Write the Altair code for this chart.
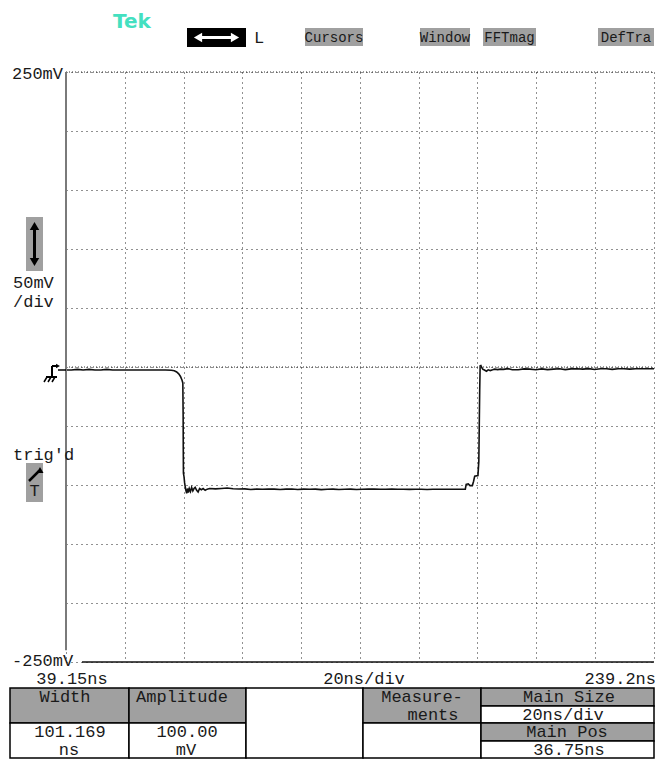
import altair as alt
import pandas as pd

time_ns = [39.15, 41, 43, 45, 47, 49, 51, 53, 55, 57, 59, 61, 63, 65, 67, 69, 71, 73, 75,
           76.0, 76.8, 77.5, 78.1, 78.6, 78.9, 79.0, 79.05, 79.1, 79.3, 79.5, 79.65, 79.9,
           80.2, 80.5, 80.8, 81.1, 81.5, 81.9, 82.3, 82.7, 83.1, 83.6, 84.1, 84.6, 85.2,
           85.8, 86.5, 87.2, 88.0,
           90, 92, 94, 96, 98, 100, 102, 104, 106, 108, 110, 112, 114, 116, 118, 120, 122,
           124, 126, 128, 130, 132, 134, 136, 138, 140, 142, 144, 146, 148, 150, 152, 154,
           156, 158, 160, 162, 164, 166, 168, 170, 172, 174, 175.0,
           175.3, 176.0, 176.6, 177.4, 177.8, 178.2, 179.3, 179.6, 179.75, 179.9, 180.05,
           180.3, 180.6, 181.0, 181.5, 182.2, 182.8, 183.5, 184.3, 185.0, 186.0, 187.0,
           188.0, 189.5, 191, 193, 195, 197, 199, 201, 203, 205, 207, 209, 211, 213, 215,
           217, 219, 221, 223, 225, 227, 229, 231, 233, 235, 237, 239.2]
volt_mV = [-2.5, -2.5, -2.0, -2.5, -2.0, -2.5, -2.5, -2.0, -2.5, -2.5, -2.5, -2.5, -2.5,
           -2.5, -2.5, -2.5, -2.5, -2.6, -2.8,
           -3.2, -4.2, -5.8, -8.0, -11.0, -13.5, -40, -70, -90, -93, -98, -100.5, -104,
           -107, -103, -106.5, -103, -105.5, -102, -105, -103, -102, -104.5, -106, -103, -104,
           -103, -104.5, -103.5, -103,
           -103.3, -103.0, -102.6, -103.2, -103.4, -103.3, -103.8, -103.5, -103.6, -103.5,
           -103.5, -103.8, -103.5, -103.4, -103.8, -103.5, -103.6, -103.5, -103.9, -103.6,
           -103.5, -103.8, -103.6, -103.5, -103.8, -103.6, -103.5, -103.4, -103.6, -103.6,
           -103.5, -103.6, -103.6, -103.7, -103.6, -103.6, -103.8, -103.6, -103.6, -103.6,
           -103.6, -103.6, -103.6, -103.6,
           -99.5, -99.0, -100.5, -100.5, -97, -92.5, -92, -80, -50, -20, 1.0,
           1.2, -0.5, -2.0, -2.5, -3.6, -2.4, -3.0, -2.4, -1.8, -2.2, -1.8,
           -2.0, -1.4, -2.3, -2.3, -1.6, -1.8, -2.3, -1.6, -2.2, -1.8, -1.5, -2.2, -1.6, -1.5,
           -1.8, -1.4, -2.1, -1.5, -1.5, -2.0, -1.5, -1.5, -1.8, -1.5, -1.5, -1.5, -1.5]

t_start, t_end, t_div = 39.15, 239.2, 20.0
v_min, v_max, v_div = -250, 250, 50
time_labels = ["39.15ns", "20ns/div", "239.2ns"]
volt_labels = ["250mV", "-250mV"]
menu_labels = ["Cursors", "Window", "FFTmag", "DefTra"]
meas_headers = ["Width", "Amplitude"]
meas_values = ["101.169", "100.00"]
meas_units = ["ns", "mV"]
side_texts = ["Measure-", "ments", "Main Size", "20ns/div", "Main Pos", "36.75ns"]

trace = pd.DataFrame({"t": time_ns, "v": volt_mV})
one = pd.DataFrame({"k": [0]})

W, H = 588, 590
OX, OY = 66, 72  # window position of plot origin
MONO = "Liberation Mono"
GRAY = "#a0a0a0"
INK = "#1a1a1a"

x_grid = [round(t_start + t_div * k, 3) for k in range(11)]
y_grid = list(range(v_min, v_max + 1, v_div))

xs = alt.Scale(domain=[t_start, t_end], nice=False, zero=False)
ys = alt.Scale(domain=[v_min, v_max], nice=False, zero=False)

line = alt.Chart(trace).mark_line(color="#111111", strokeWidth=1.6).encode(
    x=alt.X("t:Q", scale=xs,
            axis=alt.Axis(values=x_grid, grid=True, labels=False, ticks=False, domain=False,
                          title=None, gridDash=[1, 4], gridColor="#222222", gridWidth=1)),
    y=alt.Y("v:Q", scale=ys,
            axis=alt.Axis(values=y_grid, grid=True, labels=False, ticks=False, domain=False,
                          title=None, gridDash=[1, 4], gridColor="#222222", gridWidth=1)),
)

layers = []

# zero (ground) reference line, top border, left & bottom borders
layers.append(alt.Chart(one).mark_rule(color="#333333", strokeDash=[1, 2], strokeWidth=1).encode(
    x=alt.datum(t_start), x2=alt.datum(t_end), y=alt.datum(0)))
layers.append(alt.Chart(one).mark_rule(color="#333333", strokeDash=[1, 2], strokeWidth=1).encode(
    x=alt.datum(t_start), x2=alt.datum(t_end), y=alt.datum(v_max)))
layers.append(alt.Chart(one).mark_rule(color="#7a7a7a", strokeWidth=2).encode(
    x=alt.datum(t_start), y=alt.datum(v_max), y2=alt.datum(-240)))
layers.append(alt.Chart(one).mark_rule(color="#111111", strokeWidth=1.5).encode(
    x=alt.datum(44.6), x2=alt.datum(t_end), y=alt.datum(v_min)))

# voltage labels
layers.append(alt.Chart(one).mark_text(text=volt_labels[0], align="left", baseline="middle",
                                       font=MONO, fontSize=17, dy=2, color=INK).encode(
    x=alt.value(12 - OX), y=alt.datum(v_max)))
layers.append(alt.Chart(one).mark_text(text=volt_labels[1], align="left", baseline="middle",
                                       font=MONO, fontSize=17, dy=-1, color=INK).encode(
    x=alt.value(12 - OX), y=alt.datum(v_min)))

# time labels
for lab, tv, al, dx in [(time_labels[0], t_start, "center", 6),
                        (time_labels[1], (t_start + t_end) / 2, "center", 4),
                        (time_labels[2], t_end, "right", 2)]:
    layers.append(alt.Chart(one).mark_text(text=lab, align=al, baseline="middle",
                                           font=MONO, fontSize=17, dx=dx, dy=17, color=INK).encode(
        x=alt.datum(tv), y=alt.datum(v_min)))


def rect(x1, y1, x2, y2, fill, stroke=None, sw=1.5):
    kw = dict(fill=fill)
    if stroke:
        kw.update(stroke=stroke, strokeWidth=sw)
    return alt.Chart(one).mark_rect(**kw).encode(
        x=alt.value(x1 - OX), x2=alt.value(x2 - OX), y=alt.value(y1 - OY), y2=alt.value(y2 - OY))


def txt(x, y, s, align="center", size=17, color=INK, font=MONO, weight="normal", base="middle"):
    return alt.Chart(one).mark_text(text=s, align=align, baseline=base, font=font, fontSize=size,
                                    color=color, fontWeight=weight).encode(
        x=alt.value(x - OX), y=alt.value(y - OY))


def rule(x1, y1, x2, y2, color="black", sw=1.5):
    return alt.Chart(one).mark_rule(color=color, strokeWidth=sw).encode(
        x=alt.value(x1 - OX), x2=alt.value(x2 - OX), y=alt.value(y1 - OY), y2=alt.value(y2 - OY))


def tri(x, y, shape, color="black", size=70):
    return alt.Chart(one).mark_point(shape=shape, filled=True, size=size, color=color, opacity=1).encode(
        x=alt.value(x - OX), y=alt.value(y - OY))


# --- header ---
layers.append(txt(113, 28, "Tek", align="left", size=20, color="#44e0c0", font="DejaVu Sans",
                  weight="bold", base="alphabetic"))
layers.append(rect(187, 28, 246, 47, "black"))
layers.append(rule(199, 37.5, 234, 37.5, color="white", sw=3))
layers.append(tri(198, 37.5, "triangle-left", color="white", size=90))
layers.append(tri(235, 37.5, "triangle-right", color="white", size=90))
layers.append(txt(254, 38, "L", align="left", size=17))
for lab, (a, b) in zip(menu_labels, [(305, 363), (420, 470), (483, 536), (598, 654)]):
    layers.append(rect(a, 28, b, 46, GRAY))
    layers.append(txt((a + b) / 2, 37.5, lab, size=14))

# --- left side icons ---
layers.append(rect(26, 217, 43, 271, GRAY))
layers.append(rule(34.5, 226, 34.5, 262, sw=3))
layers.append(tri(34.5, 226, "triangle-up", size=90))
layers.append(tri(34.5, 262, "triangle-down", size=90))
layers.append(txt(13, 283, "50mV", align="left"))
layers.append(txt(13, 302, "/div", align="left"))
# ground marker
layers.append(rule(52, 366, 52, 377, sw=2))
layers.append(rule(52, 366, 57, 366, sw=2))
layers.append(tri(58, 366, "triangle-right", size=20))
layers.append(rule(46, 377, 57, 377, sw=2))
for hx in [47, 51, 55]:
    layers.append(rule(hx, 377, hx - 3, 382, sw=1.5))
layers.append(rule(58, 370, 66, 370, sw=1.5))
layers.append(txt(13, 455, "trig'd", align="left"))
layers.append(rect(26, 463, 43, 502, GRAY))
layers.append(rule(29, 481, 39, 471, sw=2.5))
layers.append(tri(40, 470, "triangle-up", size=50))
layers.append(txt(34.5, 491, "T", size=17))

# --- measurement table ---
E = [10, 129, 246, 363, 481, 654]
T0, TM, TB = 688, 723, 758
layers += [
    rect(E[0], T0, E[1], TM, GRAY, "black"), rect(E[0], TM, E[1], TB, "white", "black"),
    rect(E[1], T0, E[2], TM, GRAY, "black"), rect(E[1], TM, E[2], TB, "white", "black"),
    rect(E[2], T0, E[3], TB, "white", "black"),
    rect(E[3], T0, E[4], TM, GRAY, "black"), rect(E[3], TM, E[4], TB, "white", "black"),
    rect(E[4], 688, E[5], 706, GRAY, "black"), rect(E[4], 706, E[5], 723, "white", "black"),
    rect(E[4], 723, E[5], 741, GRAY, "black"), rect(E[4], 741, E[5], 758, "white", "black"),
]
for i, cx in enumerate([65, 182]):
    layers.append(txt(cx, 697, meas_headers[i]))
for i, cx in enumerate([70, 187]):
    layers.append(txt(cx, 732, meas_values[i]))
    layers.append(txt(cx - 1, 750, meas_units[i]))
layers.append(txt(422, 697, side_texts[0]))
layers.append(txt(433, 715, side_texts[1]))
layers.append(txt(569, 697, side_texts[2]))
layers.append(txt(563, 714.5, side_texts[3]))
layers.append(txt(567, 732, side_texts[4]))
layers.append(txt(569, 749.5, side_texts[5]))

chart = alt.layer(line, *layers).properties(
    width=W, height=H,
    autosize=alt.AutoSizeParams(type="none"),
    padding={"left": 58, "top": 64, "right": 1, "bottom": 97},
    background="white",
).configure_view(stroke=None)

chart.save("out.html", embed_options={"renderer": "svg", "actions": False})
